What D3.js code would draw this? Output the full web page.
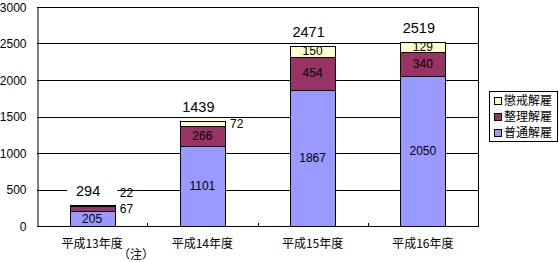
<!DOCTYPE html>
<head>
  <meta charset="utf-8" />
  <script src="https://d3js.org/d3.v7.min.js"></script>
  <style>
    body { margin: 0; background: #fff; }
    svg { display: block; font-family: "Noto Sans CJK JP", "DejaVu Sans", sans-serif; }
  </style>
</head>
<body>
  <svg width="559" height="263"></svg>
  <script>
    var years = ["平成13年度", "平成14年度", "平成15年度", "平成16年度"];
    var seriesNames = ["普通解雇", "整理解雇", "懲戒解雇"];
    var futsu = [205, 1101, 1867, 2050];
    var seiri = [67, 266, 454, 340];
    var choukai = [22, 72, 150, 129];
    var totals = [294, 1439, 2471, 2519];
    var yTicks = [0, 500, 1000, 1500, 2000, 2500, 3000];
    var colors = ["#9999ff", "#993366", "#ffffcc"];

    // note: "top" is taken by window.top, so use plot* names
    var plotLeft = 37, plotRight = 478, plotTop = 7, plotBottom = 226;
    var svg = d3.select("svg");

    var x = d3.scaleBand().domain(years).range([plotLeft, plotRight]).paddingInner(0.59).paddingOuter(0.295);
    var y = d3.scaleLinear().domain([0, 3000]).range([plotBottom, plotTop]);

    // grid
    svg.append("g").selectAll("line").data(yTicks).enter().append("line")
      .attr("x1", plotLeft).attr("x2", plotRight)
      .attr("y1", function (d) { return Math.round(y(d)) + 0.5; })
      .attr("y2", function (d) { return Math.round(y(d)) + 0.5; })
      .attr("stroke", "#000");
    svg.append("line").attr("x1", plotRight + 0.5).attr("x2", plotRight + 0.5)
      .attr("y1", plotTop).attr("y2", plotBottom + 1).attr("stroke", "#000");

    // y axis
    var yAxis = svg.append("g").attr("transform", "translate(" + (plotLeft + 0.5) + ",0.5)")
      .call(d3.axisLeft(y).tickValues(yTicks).tickFormat(d3.format("d")).tickSize(0).tickPadding(11));
    yAxis.select(".domain").attr("stroke", "#000");
    yAxis.selectAll("text").attr("font-size", 12).attr("fill", "#000")
      .attr("font-family", "Liberation Sans, Arial, sans-serif");

    // x axis ticks at band edges
    var step = x.step();
    var edges = d3.range(1, years.length).map(function (i) { return plotLeft + i * step; });
    svg.append("g").selectAll("line").data(edges).enter().append("line")
      .attr("x1", function (d) { return Math.round(d) + 0.5; })
      .attr("x2", function (d) { return Math.round(d) + 0.5; })
      .attr("y1", plotBottom - 3).attr("y2", plotBottom).attr("stroke", "#000");

    svg.append("g").selectAll("text").data(years).enter().append("text")
      .attr("x", function (d) { return x(d) + x.bandwidth() / 2; })
      .attr("y", 248)
      .attr("text-anchor", "middle").attr("font-size", 12).text(function (d) { return d; });
    svg.append("text").attr("x", 118).attr("y", 259).attr("font-size", 12).text("（注）");

    // stacked bars
    var series = [futsu, seiri, choukai];
    var labelFont = "Liberation Sans, Arial, sans-serif";
    years.forEach(function (yr, i) {
      var base = 0;
      var lastOut = null;
      series.forEach(function (s, k) {
        var v = s[i];
        var y0 = y(base), y1 = y(base + v);
        svg.append("rect")
          .attr("x", Math.round(x(yr)) + 0.5).attr("y", Math.round(y1) + 0.5)
          .attr("width", Math.round(x.bandwidth()))
          .attr("height", Math.round(y0) - Math.round(y1))
          .attr("fill", colors[k]).attr("stroke", "#000");
        var mid = (y0 + y1) / 2;
        var inside = (y0 - y1) >= 9;
        var lx = inside ? x(yr) + x.bandwidth() / 2 : x(yr) + x.bandwidth() + 5;
        var ly = mid;
        if (!inside) {
          if (lastOut !== null && lastOut - ly < 16) ly = lastOut - 16;
          lastOut = ly;
        }
        svg.append("text").attr("x", lx).attr("y", ly).attr("dy", "0.36em")
          .attr("text-anchor", inside ? "middle" : "start")
          .attr("font-size", 12).attr("font-family", labelFont).text(v);
        base += v;
      });
      var ty = y(totals[i]) - 9;
      var tg = svg.append("g");
      tg.append("rect").attr("x", x(yr) + x.bandwidth() / 2 - 25).attr("y", ty - 14)
        .attr("width", 50).attr("height", 18).attr("fill", "#fff");
      tg.append("text").attr("x", x(yr) + x.bandwidth() / 2 - 4).attr("y", ty)
        .attr("text-anchor", "middle").attr("font-size", 14.5).attr("font-family", labelFont)
        .text(totals[i]);
    });

    // legend
    var lg = svg.append("g");
    lg.append("rect").attr("x", 489.5).attr("y", 91.5).attr("width", 68).attr("height", 50)
      .attr("fill", "#fff").attr("stroke", "#000");
    var order = [2, 1, 0];
    order.forEach(function (k, j) {
      var cy = 101 + j * 16;
      lg.append("rect").attr("x", 494.5).attr("y", cy - 3.5).attr("width", 7).attr("height", 7)
        .attr("fill", colors[k]).attr("stroke", "#000");
      lg.append("text").attr("x", 504).attr("y", cy).attr("dy", "0.36em")
        .attr("font-size", 12).text(seriesNames[k]);
    });
  </script>
</body>
